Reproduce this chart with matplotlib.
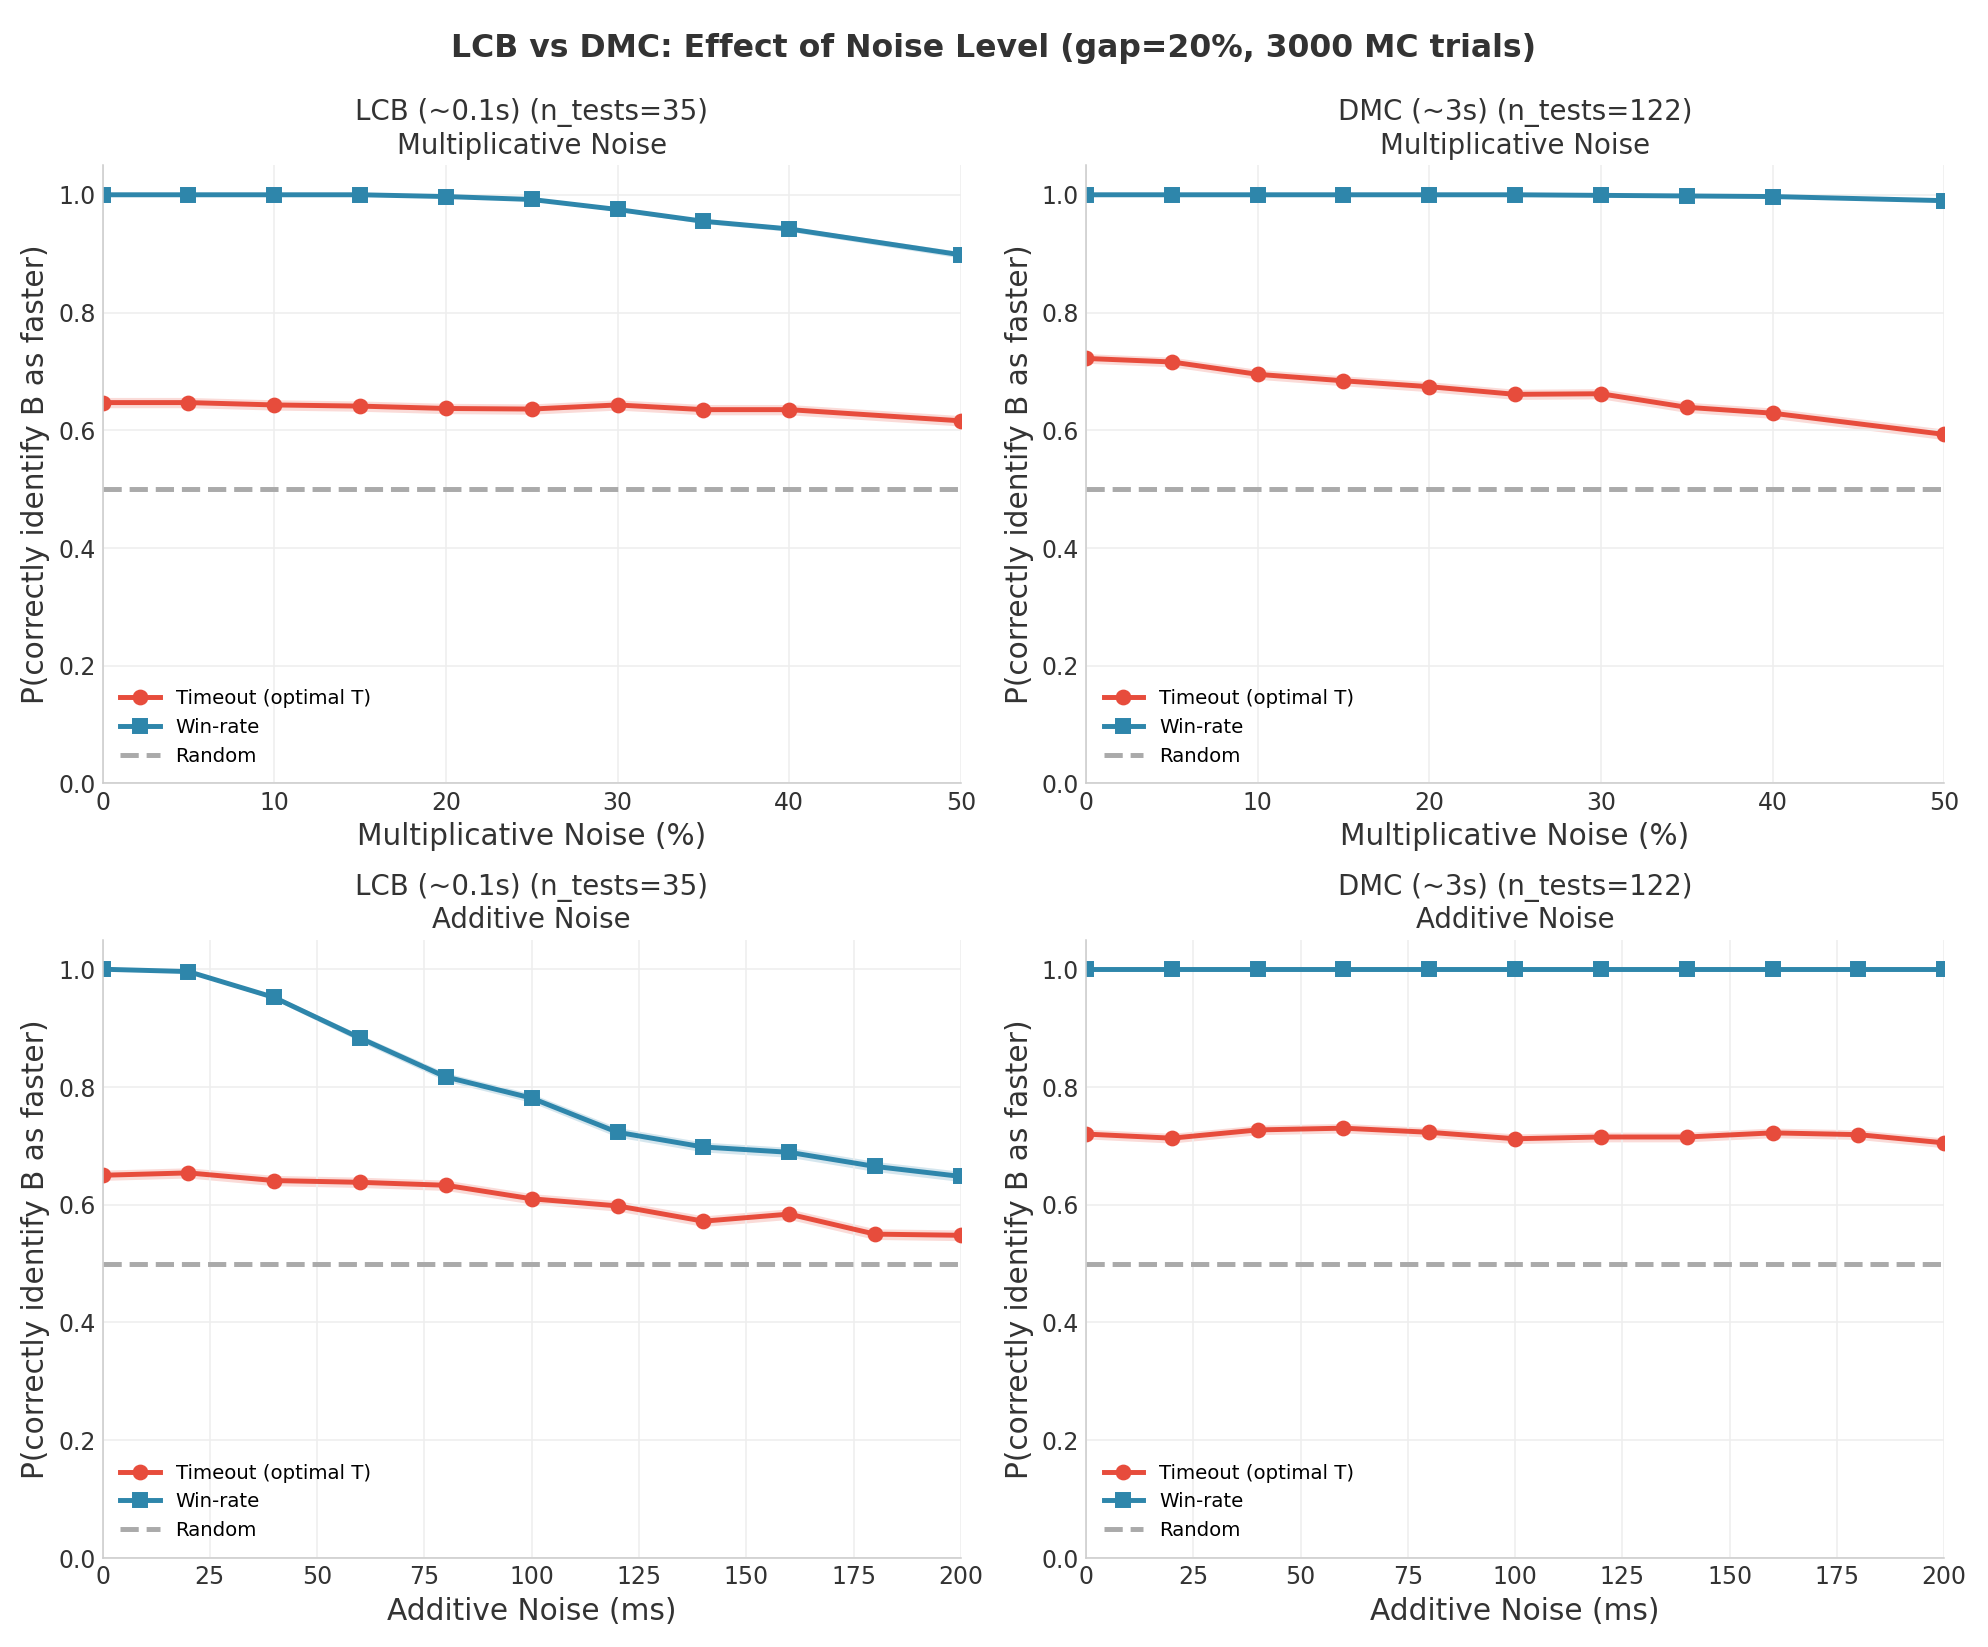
import numpy as np
import matplotlib.pyplot as plt

mult_x = [0, 5, 10, 15, 20, 25, 30, 35, 40, 45, 50]
add_x = [0, 20, 40, 60, 80, 100, 120, 140, 160, 180, 200]

lcb_mult_win = [1.0, 1.0, 1.0, 1.0, 0.997, 0.992, 0.975, 0.955, 0.942, None, 0.898]
lcb_mult_to = [0.647, 0.647, 0.643, 0.641, 0.637, 0.636, 0.643, 0.635, 0.635, None, 0.616]
dmc_mult_win = [1.0, 1.0, 1.0, 1.0, 1.0, 1.0, 0.999, 0.998, 0.997, None, 0.99]
dmc_mult_to = [0.722, 0.716, 0.695, 0.684, 0.674, 0.661, 0.662, 0.639, 0.629, None, 0.593]
lcb_add_win = [1.0, 0.996, 0.952, 0.883, 0.817, 0.781, 0.723, 0.698, 0.689, 0.665, 0.648]
lcb_add_to = [0.65, 0.654, 0.641, 0.638, 0.633, 0.61, 0.598, 0.572, 0.584, 0.55, 0.548]
dmc_add_win = [1.0] * 11
dmc_add_to = [0.72, 0.713, 0.727, 0.73, 0.723, 0.712, 0.715, 0.715, 0.722, 0.719, 0.705]

RED = '#e74c3c'
BLUE = '#2e86ab'

plt.rcParams['font.family'] = ['DejaVu Sans']
fig, axes = plt.subplots(2, 2, figsize=(14, 11.6), dpi=142)

panels = [
    (axes[0, 0], mult_x, lcb_mult_to, lcb_mult_win, 'LCB (~0.1s) (n_tests=35)\nMultiplicative Noise', 'Multiplicative Noise (%)'),
    (axes[0, 1], mult_x, dmc_mult_to, dmc_mult_win, 'DMC (~3s) (n_tests=122)\nMultiplicative Noise', 'Multiplicative Noise (%)'),
    (axes[1, 0], add_x, lcb_add_to, lcb_add_win, 'LCB (~0.1s) (n_tests=35)\nAdditive Noise', 'Additive Noise (ms)'),
    (axes[1, 1], add_x, dmc_add_to, dmc_add_win, 'DMC (~3s) (n_tests=122)\nAdditive Noise', 'Additive Noise (ms)'),
]

for ax, xs, to, win, title, xlabel in panels:
    pts = [(x, t, w) for x, t, w in zip(xs, to, win) if t is not None]
    x = np.array([p[0] for p in pts])
    t = np.array([p[1] for p in pts])
    w = np.array([p[2] for p in pts])
    # standard error band over 3000 trials
    for vals, col in ((t, RED), (w, BLUE)):
        se = np.sqrt(vals * (1 - vals) / 3000)
        ax.fill_between(x, vals - se, vals + se, color=col, alpha=0.2, lw=0)
    ax.plot(x, t, 'o-', color=RED, lw=2.5, ms=7, label='Timeout (optimal T)')
    ax.plot(x, w, 's-', color=BLUE, lw=2.5, ms=7, label='Win-rate')
    ax.axhline(0.5, color='#aaaaaa', ls='--', lw=2.5, label='Random')
    ax.set_xlim(x[0], x[-1])
    ax.set_ylim(0, 1.05)
    ax.set_title(title, fontsize=14, color='#333333')
    ax.set_xlabel(xlabel, fontsize=15, color='#333333')
    ax.set_ylabel('P(correctly identify B as faster)', fontsize=15, color='#333333')
    ax.tick_params(labelsize=12, colors='#333333', length=0)
    ax.grid(True, color='#eeeeee', lw=0.8)
    for s in ('top', 'right'):
        ax.spines[s].set_visible(False)
    for s in ('left', 'bottom'):
        ax.spines[s].set_color('#cccccc')
    ax.legend(loc='lower left', fontsize=10, frameon=False)

fig.suptitle('LCB vs DMC: Effect of Noise Level (gap=20%, 3000 MC trials)',
             fontsize=16, fontweight='bold', color='#333333')
fig.tight_layout(rect=(0, 0, 1, 0.985))
fig.savefig('out.png')
